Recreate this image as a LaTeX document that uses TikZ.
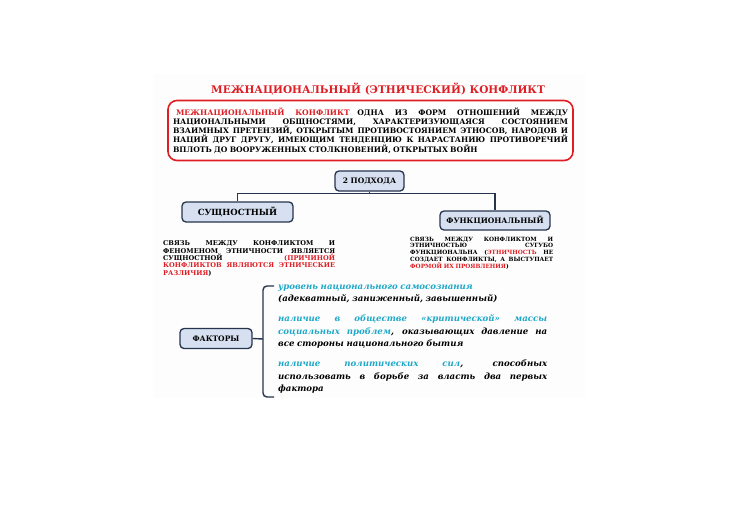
\documentclass[tikz,border=0pt]{standalone}
\usepackage{fontspec}
\setmainfont{DejaVu Serif}
\definecolor{redT}{RGB}{222,30,36}
\definecolor{cyanT}{RGB}{30,168,200}
\definecolor{navy}{RGB}{38,52,78}
\definecolor{boxfill}{RGB}{214,224,240}
\definecolor{panel}{RGB}{253,253,253}
\begin{document}
\begin{tikzpicture}[x=1pt,y=-1pt,
  hbox/.style={draw=navy, line width=1.3pt, fill=boxfill, rounded corners=4pt,
    font=\bfseries\fontsize{7.5}{9}\selectfont, inner sep=0pt, minimum height=20pt},
  conn/.style={draw=navy, line width=1.4pt},
  jtext/.style={inner sep=0pt, align=justify, anchor=north west},
  nohy/.style={execute at begin node={\hyphenpenalty=10000\exhyphenpenalty=10000\spaceskip=0.3em plus 3em minus 0.12em\relax}}]
\useasboundingbox (0,0) rectangle (740,523);
\fill[panel] (153,74) rectangle (585,398);

\node[font=\bfseries\fontsize{10.5}{12}\selectfont, text=redT] (title) at (378,89)
  {МЕЖНАЦИОНАЛЬНЫЙ (ЭТНИЧЕСКИЙ) КОНФЛИКТ};

\node[draw=redT, fill=white, line width=1.6pt, rounded corners=9pt, text width=395pt, inner xsep=5pt,
  minimum height=60pt, align=justify, nohy,
  font=\bfseries\fontsize{7.6}{9.3}\selectfont] (def) at (370.5,130.5)
  {\hspace*{3pt}{\color{redT}МЕЖНАЦИОНАЛЬНЫЙ КОНФЛИКТ}\quad ОДНА ИЗ ФОРМ ОТНОШЕНИЙ МЕЖДУ\linebreak
   НАЦИОНАЛЬНЫМИ ОБЩНОСТЯМИ, ХАРАКТЕРИЗУЮЩАЯСЯ СОСТОЯНИЕМ\linebreak
   ВЗАИМНЫХ ПРЕТЕНЗИЙ, ОТКРЫТЫМ ПРОТИВОСТОЯНИЕМ ЭТНОСОВ, НАРОДОВ И\linebreak
   НАЦИЙ ДРУГ ДРУГУ, ИМЕЮЩИМ ТЕНДЕНЦИЮ К НАРАСТАНИЮ ПРОТИВОРЕЧИЙ\linebreak
   ВПЛОТЬ ДО ВООРУЖЕННЫХ СТОЛКНОВЕНИЙ, ОТКРЫТЫХ ВОЙН};

\node[hbox, minimum width=69pt] (p2) at (369.5,181) {2 ПОДХОДА};
\node[hbox, minimum width=111pt, font=\bfseries\fontsize{8.5}{10}\selectfont] (sush) at (237.5,212) {СУЩНОСТНЫЙ};
\node[hbox, minimum width=110pt, minimum height=19pt] (func) at (495,220.5) {ФУНКЦИОНАЛЬНЫЙ};

\coordinate (jy) at (0,193.5);
\draw[conn] (p2.south) -- (p2.south |- jy);
\draw[conn] (sush.north) -- (sush.north |- jy) -- (func.north |- jy) -- (func.north);

\node[jtext, nohy, text width=172pt, font=\bfseries\fontsize{6.6}{7.4}\selectfont] (stext) at (163,240.5)
  {СВЯЗЬ МЕЖДУ КОНФЛИКТОМ И\linebreak
   ФЕНОМЕНОМ ЭТНИЧНОСТИ ЯВЛЯЕТСЯ\linebreak
   СУЩНОСТНОЙ {\color{redT}(ПРИЧИНОЙ\linebreak
   КОНФЛИКТОВ ЯВЛЯЮТСЯ ЭТНИЧЕСКИЕ\linebreak
   РАЗЛИЧИЯ})};

\node[jtext, nohy, text width=143pt, font=\bfseries\fontsize{5.8}{6.9}\selectfont] (ftext) at (410,236.5)
  {СВЯЗЬ МЕЖДУ КОНФЛИКТОМ И\linebreak
   ЭТНИЧНОСТЬЮ СУГУБО\linebreak
   ФУНКЦИОНАЛЬНА ({\color{redT}ЭТНИЧНОСТЬ} НЕ\linebreak
   СОЗДАЕТ КОНФЛИКТЫ, А ВЫСТУПАЕТ\linebreak
   {\color{redT}ФОРМОЙ ИХ ПРОЯВЛЕНИЯ})};

\node[hbox, minimum width=72pt] (fact) at (216,338.5) {ФАКТОРЫ};

\coordinate (bt) at (274,286);
\coordinate (bm) at (263,339);
\coordinate (bb) at (274,397);
\draw[conn, rounded corners=4pt] (bt) -- (bt -| bm) -- (bb -| bm) -- (bb);
\draw[conn] (fact.east) -- (bm);

\node[jtext, align=left, nohy, text width=269pt, font=\bfseries\itshape\fontsize{8.6}{12}\selectfont] (f1) at (278,285)
  {{\color{cyanT}уровень национального самосознания}\\
   (адекватный, заниженный, завышенный)};

\node[jtext, nohy, text width=269pt, font=\bfseries\itshape\fontsize{8.6}{12.5}\selectfont] (f2) at (278,314.5)
  {{\color{cyanT}наличие в обществе «критической» массы\linebreak
   социальных проблем}, оказывающих давление на\linebreak
   все стороны национального бытия};

\node[jtext, nohy, text width=269pt, font=\bfseries\itshape\fontsize{8.6}{12.2}\selectfont] (f3) at (278,360)
  {{\color{cyanT}наличие политических сил}, способных\linebreak
   использовать в борьбе за власть два первых\linebreak
   фактора};
\end{tikzpicture}
\end{document}
